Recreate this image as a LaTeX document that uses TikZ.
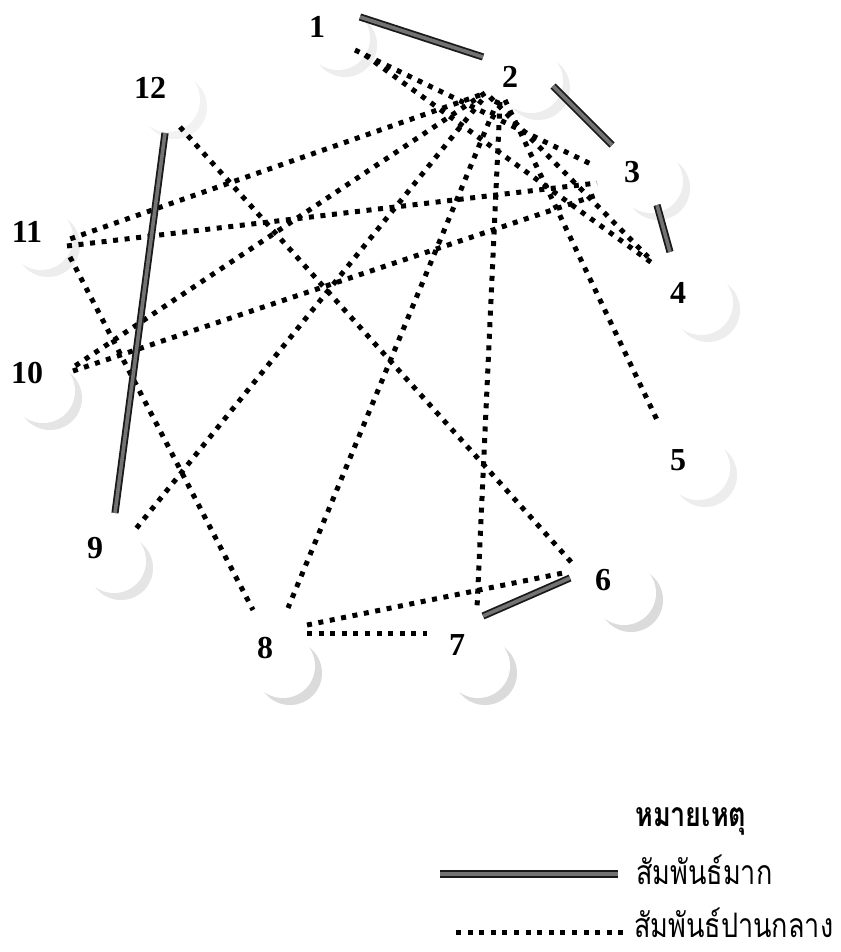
\documentclass[tikz,border=0pt]{standalone}
\usepackage{fontspec}
\setmainfont{Liberation Serif}
\newfontfamily\thaifont[Script=Thai]{Loma}
\begin{document}
\begin{tikzpicture}[x=1pt,y=-1pt,
  numlab/.style={font=\fontsize{32}{32}\selectfont\bfseries,inner sep=0pt},
  strongtie/.style={draw=black!90,line width=1.8pt,double=black!55,double distance=3.6pt},
  midtie/.style={draw=black,line width=5pt,dash pattern=on 5pt off 6.6pt},
  thaitext/.style={font=\thaifont\fontsize{27}{27}\selectfont,inner sep=0pt,anchor=base west}]
\useasboundingbox (0,0) rectangle (840,952);
\fill[white] (0,0) rectangle (840,952);
% shadowed (crescent) circles of the 12 members
\foreach \x/\y/\g in {338/38/14, 531/81/14, 651/181/14, 701/303/14, 698/468/14,
                      624/593/28, 478/666/28, 283/666/28, 114/561/20, 43/391/20,
                      41/238/14, 168/100/10}{
  \fill[gray!\g] (\x+7,\y+7) circle[radius=32];
  \fill[white] (\x,\y) circle[radius=32];
}
% labels
\node[numlab] (l1) at (317,27) {1};
\node[numlab] (l2) at (510,77) {2};
\node[numlab] (l3) at (632,172) {3};
\node[numlab] (l4) at (678,293) {4};
\node[numlab] (l5) at (678,460) {5};
\node[numlab] (l6) at (603,580) {6};
\node[numlab] (l7) at (457,645) {7};
\node[numlab] (l8) at (265,648) {8};
\node[numlab] (l9) at (95,548) {9};
\node[numlab] (l10) at (27,373) {10};
\node[numlab] (l11) at (27,232) {11};
\node[numlab] (l12) at (150,88) {12};
% attachment points
\coordinate (a1s) at (360,17);
\coordinate (a1c) at (355,50);
\coordinate (a1d) at (365,55);
\coordinate (a2s) at (483,57);
\coordinate (a2t) at (553,86);
\coordinate (a2d) at (490,97);
\coordinate (a2e) at (505,100);
\coordinate (a2g) at (500,102);
\coordinate (a2h) at (498,100);
\coordinate (a2i) at (482,100);
\coordinate (a2j) at (485,93);
\coordinate (a2k) at (480,95);
\coordinate (a3s) at (612,145);
\coordinate (a3t) at (657,205);
\coordinate (a3a) at (595,166);
\coordinate (a3k) at (597,183);
\coordinate (a3j) at (597,195);
\coordinate (a4s) at (670,252);
\coordinate (a4b) at (648,257);
\coordinate (a4a) at (652,263);
\coordinate (a5b) at (658,422);
\coordinate (a6s) at (570,578);
\coordinate (a6l) at (572,563);
\coordinate (a6h) at (568,572);
\coordinate (a7s) at (483,616);
\coordinate (a7b) at (477,608);
\coordinate (a7h) at (427,633);
\coordinate (a8b) at (288,608);
\coordinate (a8k) at (253,610);
\coordinate (a8f) at (307,625);
\coordinate (a8g) at (307,633);
\coordinate (a9s) at (115,513);
\coordinate (a9b) at (135,530);
\coordinate (a10b) at (72,368);
\coordinate (a10c) at (73,371);
\coordinate (a11b) at (67,240);
\coordinate (a11c) at (67,246);
\coordinate (a11h) at (70,257);
\coordinate (a12s) at (165,133);
\coordinate (a12f) at (180,127);
% moderate ties
\draw[midtie] (a1c) -- (a3a);
\draw[midtie] (a1d) -- (a4a);
\draw[midtie] (a2d) -- (a4b);
\draw[midtie] (a2e) -- (a5b);
\draw[midtie] (a2g) -- (a7b);
\draw[midtie] (a2h) -- (a8b);
\draw[midtie] (a2i) -- (a9b);
\draw[midtie] (a2j) -- (a10b);
\draw[midtie] (a2k) -- (a11b);
\draw[midtie] (a11c) -- (a3k);
\draw[midtie] (a10c) -- (a3j);
\draw[midtie] (a11h) -- (a8k);
\draw[midtie] (a12f) -- (a6l);
\draw[midtie] (a8f) -- (a6h);
\draw[midtie] (a8g) -- (a7h);
% strong ties
\draw[strongtie] (a1s) -- (a2s);
\draw[strongtie] (a2t) -- (a3s);
\draw[strongtie] (a3t) -- (a4s);
\draw[strongtie] (a12s) -- (a9s);
\draw[strongtie] (a7s) -- (a6s);
% legend
\coordinate (ls1) at (440,874);
\coordinate (ls2) at (618,874);
\coordinate (ld1) at (456,932);
\coordinate (ld2) at (625,932);
\draw[strongtie] (ls1) -- (ls2);
\draw[midtie] (ld1) -- (ld2);
\node[thaitext] (t0) at (635,826) {\scalebox{1}[1.25]{\bfseries หมายเหตุ}};
\node[thaitext] (t1) at (636,884) {\scalebox{1}[1.25]{สัมพันธ์มาก}};
\node[thaitext] (t2) at (634,937) {\scalebox{1}[1.25]{สัมพันธ์ปานกลาง}};
\end{tikzpicture}
\end{document}
